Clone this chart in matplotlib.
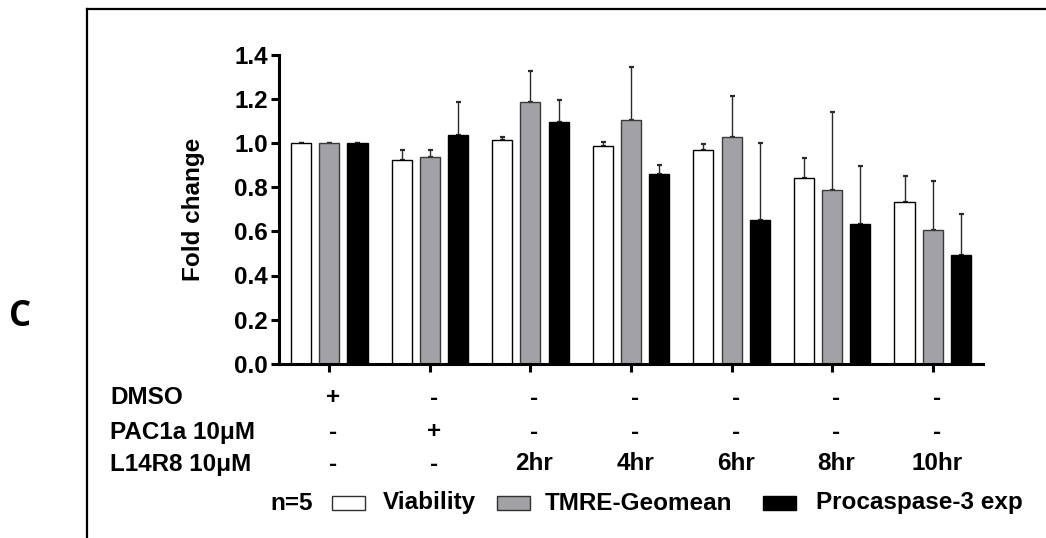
import matplotlib
matplotlib.use("Agg")
import matplotlib.pyplot as plt
import matplotlib.transforms as mtransforms
from matplotlib.patches import Rectangle
from matplotlib.lines import Line2D
import numpy as np

# Treatment groups (one per x tick)
groups = ["DMSO", "PAC1a", "2hr", "4hr", "6hr", "8hr", "10hr"]

# Mean fold change per readout
viability = [1.000, 0.922, 1.014, 0.987, 0.968, 0.842, 0.735]
tmre_geomean = [1.000, 0.936, 1.187, 1.104, 1.028, 0.789, 0.606]
procaspase3 = [1.000, 1.039, 1.096, 0.862, 0.653, 0.635, 0.492]

# Upper error (SEM) per readout
viability_err = [0.0, 0.046, 0.016, 0.017, 0.030, 0.092, 0.118]
tmre_err = [0.0, 0.032, 0.139, 0.240, 0.187, 0.352, 0.223]
procaspase3_err = [0.0, 0.146, 0.101, 0.038, 0.349, 0.262, 0.188]

# Treatment table under the axis
row_labels = ["DMSO", "PAC1a 10\u03bcM", "L14R8 10\u03bcM"]
dmso_row = ["+", "-", "-", "-", "-", "-", "-"]
pac1a_row = ["-", "+", "-", "-", "-", "-", "-"]
l14r8_row = ["-", "-", "2hr", "4hr", "6hr", "8hr", "10hr"]

series_names = ["Viability", "TMRE-Geomean", "Procaspase-3 exp"]
yticks = [0.0, 0.2, 0.4, 0.6, 0.8, 1.0, 1.2, 1.4]

W, H = 1046, 538
fig = plt.figure(figsize=(W / 100, H / 100), dpi=100)
plt.rcParams["font.family"] = ["Liberation Sans", "DejaVu Sans"]
FS = 17.5

def fx(px):
    return px / W

def fy(py):
    return 1 - py / H

ax = fig.add_axes([fx(279), fy(363.7), fx(983) - fx(279), (363.7 - 55) / H])

x = np.arange(len(groups))
offset = 0.28
width = 0.2
gray = "#a2a1a6"
series = [
    (viability, viability_err, "white", "black"),
    (tmre_geomean, tmre_err, gray, "#3a3a3a"),
    (procaspase3, procaspase3_err, "black", "black"),
]
for i, (vals, errs, fc, ec) in enumerate(series):
    pos = x + (i - 1) * offset
    ax.bar(pos, vals, width=width, color=fc, edgecolor=ec, linewidth=1.0, zorder=2)
    ax.errorbar(pos, vals, yerr=[np.zeros(len(vals)), errs], fmt="none",
                ecolor="#2a2a2a", elinewidth=1.0, capsize=1.8, capthick=1.6, zorder=1)

ax.set_xlim(-0.5, 6.5)
ax.set_ylim(0, 1.4)
ax.set_yticks(yticks)
ax.set_yticklabels([f"{t:.1f}" for t in yticks], fontsize=FS, fontweight="bold")
ax.set_xticks(x)
ax.set_xticklabels([])
for side in ("top", "right"):
    ax.spines[side].set_visible(False)
for side in ("left", "bottom"):
    ax.spines[side].set_linewidth(2.2)
ax.tick_params(axis="both", direction="out", length=6, width=2.2, pad=2)
ax.set_ylabel("Fold change", fontsize=FS, fontweight="bold")
ax.yaxis.set_label_coords((205 - 279) / 704, 0.5)

# Treatment table
trans = mtransforms.blended_transform_factory(ax.transData, fig.transFigure)
row_y = [398, 432, 464]
for label, ypix in zip(row_labels, row_y):
    fig.text(fx(110), fy(ypix), label, fontsize=FS, fontweight="bold",
             ha="left", va="center")
for row, ypix in zip([dmso_row, pac1a_row, l14r8_row], row_y):
    for xi, s in zip(x, row):
        ax.text(xi + 0.04, fy(ypix), s, transform=trans, fontsize=FS,
                fontweight="bold", ha="center", va="center", clip_on=False)

# Legend row
leg_y = 503
fig.text(fx(270), fy(leg_y), "n=5", fontsize=FS, fontweight="bold", ha="left", va="center")
legend_items = [
    (331.5, 383, "white", "#303030"),
    (497, 545, gray, "#303030"),
    (763, 816, "black", "black"),
]
for (bx, tx, fc, ec), name in zip(legend_items, series_names):
    fig.patches.append(Rectangle((fx(bx), fy(510)), fx(33), 14 / H, transform=fig.transFigure,
                                 facecolor=fc, edgecolor=ec, linewidth=1.0))
    fig.text(fx(tx), fy(leg_y), name, fontsize=FS, fontweight="bold", ha="left", va="center")

# Panel letter and frame
fig.text(fx(20), fy(317), "C", fontsize=25, fontweight="bold", ha="center", va="center",
         family=["Open Sans", "DejaVu Sans"])
fig.lines.append(Line2D([fx(86.5), 1.0], [fy(9), fy(9)], transform=fig.transFigure,
                        color="black", linewidth=1.6))
fig.lines.append(Line2D([fx(86.5), fx(86.5)], [0.0, fy(9)], transform=fig.transFigure,
                        color="black", linewidth=1.6))

fig.savefig("out.png", dpi=100)
